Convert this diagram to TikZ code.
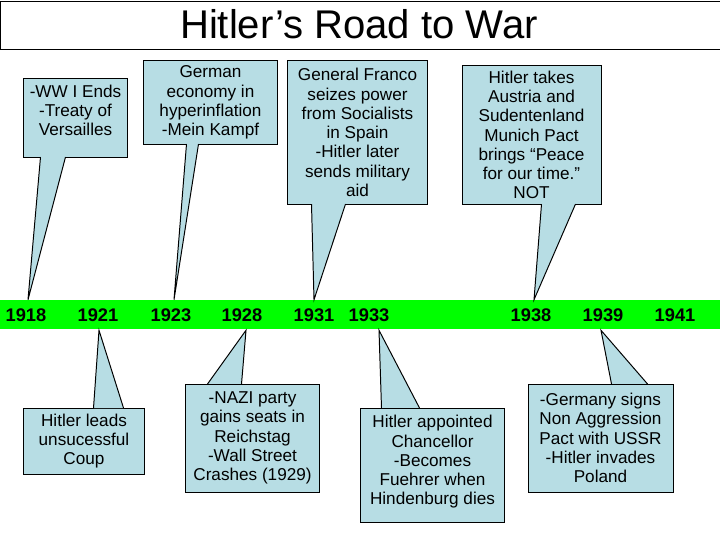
\documentclass[tikz,border=0pt]{standalone}
\usepackage{fontspec}
\setmainfont{Liberation Sans}
\usetikzlibrary{positioning}
\definecolor{barGreen}{RGB}{0,255,0}
\definecolor{noteBlue}{RGB}{183,221,228}
\tikzset{
    note/.style={rectangle, draw, fill=noteBlue, line width=0.7pt, align=center, inner sep=2pt, font=\fontsize{12.2}{13.7}\selectfont},
    tail/.style={fill=noteBlue, draw, line width=0.7pt, line join=miter},
    year/.style={minimum height=0.75cm, inner sep=0pt, font=\fontsize{13}{14}\selectfont\bfseries},
}

\begin{document}
\begin{tikzpicture}[x=0.025cm, y=-0.025cm]
    \useasboundingbox (0,0) rectangle (720,540);
    \node[draw, line width=0.7pt, minimum width=18.2cm, minimum height=1.2cm, anchor=north west, font=\fontsize{28.5}{32}\selectfont] (title) at (0.5,0.5) {};
    \node[font=\fontsize{28.5}{32}\selectfont] (titletext) at (359,24.5) {Hitler's Road to War};

    % timeline
    \fill[barGreen] (0,300) rectangle (720,329);
    \foreach \yr/\x in {1918/26, 1921/98, 1923/171, 1928/242, 1931/314, 1933/369, 1938/531, 1939/603, 1941/675}
        \node[year] (y\yr) at (\x,315) {\yr};

    % notes above the line
    \node[note, minimum width=2.575cm, minimum height=1.975cm, text depth=10.6pt] (wwi) at (75.5,117.5) {-WW I Ends\\-Treaty of\\Versailles};
    \node[note, minimum width=3.325cm, minimum height=2.075cm] (econ) at (210.5,102.5) {German\\economy in\\hyperinflation\\-Mein Kampf};
    \node[note, minimum width=3.475cm, minimum height=3.575cm] (franco) at (357.5,132.5) {General Franco\\seizes power\\from Socialists\\in Spain\\-Hitler later\\sends military\\aid};
    \node[note, minimum width=3.475cm, minimum height=3.45cm] (austria) at (531.5,135) {Hitler takes\\Austria and\\Sudentenland\\Munich Pact\\brings “Peace\\for our time.”\\NOT};

    % notes below the line
    \node[note, minimum width=3cm, minimum height=1.65cm] (coup) at (84,441) {Hitler leads\\unsucessful\\Coup};
    \node[note, minimum width=3.325cm, minimum height=2.7cm] (nazi) at (252.5,438) {-NAZI party\\gains seats in\\Reichstag\\-Wall Street\\Crashes (1929)};
    \node[note, minimum width=3.575cm, minimum height=2.85cm, text depth=6.8pt] (chanc) at (432.5,465) {Hitler appointed\\Chancellor\\-Becomes\\Fuehrer when\\Hindenburg dies};
    \node[note, minimum width=3.625cm, minimum height=2.7cm] (poland) at (600.5,438) {-Germany signs\\Non Aggression\\Pact with USSR\\-Hitler invades\\Poland};

    % pointers
    \filldraw[tail] ([xshift=0.425cm, yshift=0.35pt]wwi.south west) -- ([xshift=0.05cm]y1918.north) -- ([xshift=1.05cm, yshift=0.35pt]wwi.south west);
    \filldraw[tail] ([xshift=1.075cm, yshift=0.35pt]econ.south west) -- ([xshift=0.075cm]y1923.north) -- ([xshift=1.375cm, yshift=0.35pt]econ.south west);
    \filldraw[tail] ([xshift=0.6cm, yshift=0.35pt]franco.south west) -- (y1931.north) -- ([xshift=1.45cm, yshift=0.35pt]franco.south west);
    \filldraw[tail] ([xshift=2cm, yshift=0.35pt]austria.south west) -- ([xshift=0.075cm]y1938.north) -- ([xshift=2.85cm, yshift=0.35pt]austria.south west);
    \filldraw[tail] ([xshift=1.75cm, yshift=-0.35pt]coup.north west) -- ([xshift=0.025cm]y1921.south) -- ([xshift=2.5cm, yshift=-0.35pt]coup.north west);
    \filldraw[tail] ([xshift=0.55cm, yshift=-0.35pt]nazi.north west) -- ([xshift=0.1cm]y1928.south) -- ([xshift=1.4cm, yshift=-0.35pt]nazi.north west);
    \filldraw[tail] ([xshift=0.525cm, yshift=-0.35pt]chanc.north west) -- ([xshift=0.25cm]y1933.south) -- ([xshift=1.475cm, yshift=-0.35pt]chanc.north west);
    \filldraw[tail] ([xshift=2.1cm, yshift=-0.35pt]poland.north west) -- ([xshift=-0.05cm]y1939.south) -- ([xshift=3cm, yshift=-0.35pt]poland.north west);
\end{tikzpicture}
\end{document}
